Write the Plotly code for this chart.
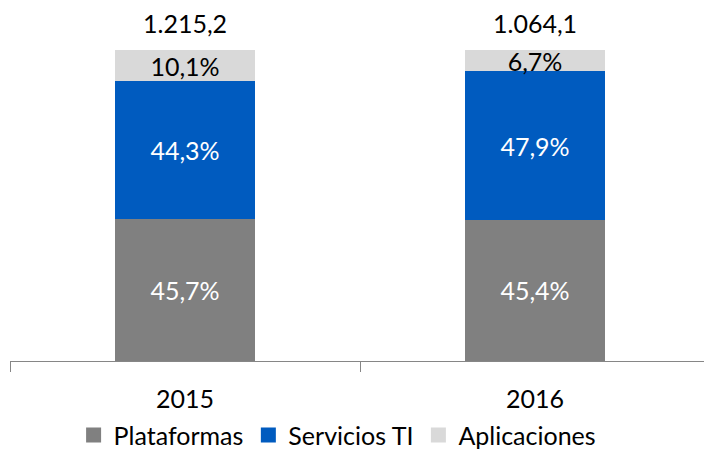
import plotly.graph_objects as go

years = ["2015", "2016"]
totals = [1215.2, 1064.1]
plataformas = [45.7, 45.4]
servicios_ti = [44.3, 47.9]
aplicaciones = [10.1, 6.7]

FONT = "Lato"
SIZE = 25


def pct(values):
    return [f"{v:.1f}".replace(".", ",") + "%" for v in values]


def miles(v):
    s = f"{v:,.1f}"
    return s.replace(",", "X").replace(".", ",").replace("X", ".")


fig = go.Figure()
series = [
    ("Plataformas", plataformas, "#808080", "white"),
    ("Servicios TI", servicios_ti, "#005BBF", "white"),
    ("Aplicaciones", aplicaciones, "#D9D9D9", "black"),
]
for name, vals, color, tcolor in series:
    fig.add_trace(go.Bar(
        x=years, y=vals, name=name, marker_color=color, marker_line_width=0,
        text=pct(vals), textposition="inside", insidetextanchor="middle",
        constraintext="none", textangle=0, showlegend=False,
        textfont=dict(family=FONT, size=SIZE, color=tcolor),
    ))
    # legend entry with a bigger square swatch
    fig.add_trace(go.Scatter(
        x=[None], y=[None], mode="markers", name=name,
        marker=dict(symbol="square", size=15, color=color),
    ))

# totals above the bars (category index as x)
for i, (tot, a, b, c) in enumerate(zip(totals, plataformas, servicios_ti, aplicaciones)):
    fig.add_annotation(x=i, y=a + b + c, text=miles(tot), showarrow=False,
                       yanchor="bottom", yshift=10,
                       font=dict(family=FONT, size=SIZE, color="black"))

fig.update_layout(
    barmode="stack",
    bargap=0.6,
    width=712, height=449,
    margin=dict(l=2, r=10, t=42, b=96, autoexpand=False),
    plot_bgcolor="white", paper_bgcolor="white",
    font=dict(family=FONT, size=SIZE, color="black"),
    legend=dict(orientation="h", x=0.468, xanchor="center", y=-0.239, yanchor="middle",
                font=dict(family=FONT, size=SIZE), traceorder="normal",
                itemsizing="trace", itemwidth=30),
    xaxis=dict(type="category", range=[-0.5, 1.5], showline=True,
               linecolor="#868686", linewidth=1,
               ticks="outside", tickson="boundaries", ticklen=10,
               tickcolor="#868686", ticklabelstandoff=16,
               tickfont=dict(family=FONT, size=SIZE)),
    yaxis=dict(visible=False, range=[0, 100.1], showgrid=False),
)

fig.write_html("out.html")
